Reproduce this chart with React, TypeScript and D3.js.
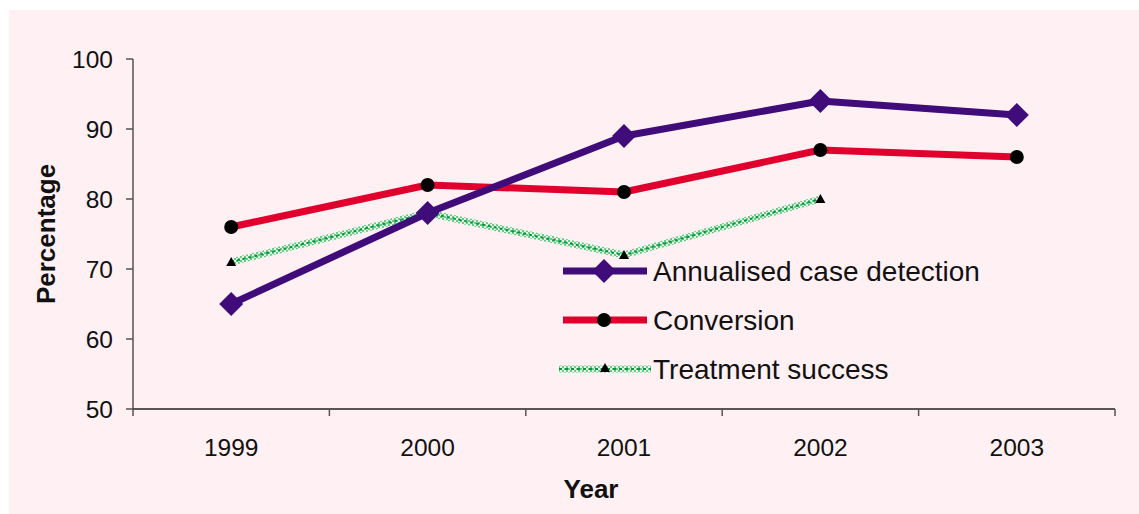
import React from "react";
import * as d3 from "d3";

const years = ["1999", "2000", "2001", "2002", "2003"];
const caseDetection = [65, 78, 89, 94, 92];
const conversion = [76, 82, 81, 87, 86];
const treatmentSuccess = [71, 78, 72, 80];
const yTicks = [50, 60, 70, 80, 90, 100];

const W = 1139;
const H = 514;
const FONT = "Liberation Sans, Arial, Helvetica, sans-serif";

export default function App() {
  const left = 133, right = 1115, top = 59, bottom = 409;
  const x = d3.scaleBand<string>().domain(years).range([left, right]);
  const cx = (y: string) => (x(y) as number) + x.bandwidth() / 2;
  const y = d3.scaleLinear().domain([50, 100]).range([bottom, top]);

  const line = d3
    .line<number>()
    .x((_, i) => cx(years[i]))
    .y((d) => y(d));

  const purple = "#3f0c79";
  const red = "#e1002d";
  const diamond = (px: number, py: number, r = 12) =>
    `M${px},${py - r}L${px + r},${py}L${px},${py + r}L${px - r},${py}Z`;
  const tri = (px: number, py: number, s = 5) =>
    `M${px},${py - s}L${px + s},${py + s * 0.8}L${px - s},${py + s * 0.8}Z`;

  const boundaries = years.map((yr) => x(yr) as number).concat([right]);

  const TreatLine = ({ d }: { d: string }) => (
    <g fill="none" strokeLinejoin="round">
      <path d={d} stroke="#ffffff" strokeWidth={7} />
      <path d={d} stroke="url(#greenPat)" strokeWidth={7} />
      <path d={d} stroke="#009a3e" strokeWidth={2} strokeDasharray="3,3" />
    </g>
  );

  const legendX1 = 563, legendX2 = 647, legendMid = 604, legendText = 653;
  const legendRows = [271, 320, 369];

  return (
    <div style={{ position: "absolute", left: 0, top: 0 }}>
      <svg width={W} height={H} style={{ display: "block" }}>
        <defs>
          <pattern id="greenPat" width={4} height={4} patternUnits="userSpaceOnUse">
            <rect width={4} height={4} fill="#e6f5e8" />
            <rect x={0} y={0} width={2} height={2} fill="#6cc788" />
            <rect x={2} y={2} width={2} height={2} fill="#6cc788" />
          </pattern>
        </defs>
        <rect x={9} y={10} width={W - 9} height={H - 10} fill="#fff0f3" />

        {/* Y axis */}
        <line x1={left} x2={left} y1={top} y2={bottom} stroke="#555" strokeWidth={1.5} />
        {yTicks.map((t) => (
          <g key={t}>
            <line x1={left - 7} x2={left} y1={y(t)} y2={y(t)} stroke="#555" strokeWidth={1.5} />
            <text
              x={left - 20}
              y={y(t)}
              dy="0.36em"
              textAnchor="end"
              fontFamily={FONT}
              fontSize={24.5}
              fill="#111"
            >
              {t}
            </text>
          </g>
        ))}

        {/* X axis */}
        <line x1={left} x2={right} y1={bottom} y2={bottom} stroke="#222" strokeWidth={1.5} />
        {boundaries.map((b, i) => (
          <line key={i} x1={b} x2={b} y1={bottom} y2={bottom + 7} stroke="#555" strokeWidth={1.5} />
        ))}
        {years.map((yr) => (
          <text
            key={yr}
            x={cx(yr)}
            y={456}
            textAnchor="middle"
            fontFamily={FONT}
            fontSize={24.5}
            fill="#111"
          >
            {yr}
          </text>
        ))}

        <text
          x={591}
          y={498}
          textAnchor="middle"
          fontFamily={FONT}
          fontSize={26}
          fontWeight="bold"
          fill="#111"
        >
          Year
        </text>
        <text
          transform={`translate(55,234) rotate(-90)`}
          textAnchor="middle"
          fontFamily={FONT}
          fontSize={26}
          fontWeight="bold"
          fill="#111"
        >
          Percentage
        </text>

        {/* Series */}
        <TreatLine d={line(treatmentSuccess) as string} />
        {treatmentSuccess.map((v, i) => (
          <path key={i} d={tri(cx(years[i]), y(v))} fill="#000" />
        ))}

        <path
          d={line(conversion) as string}
          fill="none"
          stroke={red}
          strokeWidth={7}
          strokeLinejoin="round"
        />
        {conversion.map((v, i) => (
          <circle key={i} cx={cx(years[i])} cy={y(v)} r={7} fill="#000" />
        ))}

        <path
          d={line(caseDetection) as string}
          fill="none"
          stroke={purple}
          strokeWidth={7}
          strokeLinejoin="round"
        />
        {caseDetection.map((v, i) => (
          <path key={i} d={diamond(cx(years[i]), y(v))} fill={purple} />
        ))}

        {/* Legend */}
        <line x1={legendX1} x2={legendX2} y1={legendRows[0]} y2={legendRows[0]} stroke={purple} strokeWidth={7} />
        <path d={diamond(legendMid, legendRows[0])} fill={purple} />
        <text x={legendText} y={legendRows[0]} dy="0.36em" fontFamily={FONT} fontSize={28} fill="#111">
          Annualised case detection
        </text>

        <line x1={legendX1} x2={legendX2} y1={legendRows[1]} y2={legendRows[1]} stroke={red} strokeWidth={7} />
        <circle cx={legendMid} cy={legendRows[1]} r={7} fill="#000" />
        <text x={legendText} y={legendRows[1]} dy="0.36em" fontFamily={FONT} fontSize={28} fill="#111">
          Conversion
        </text>

        <TreatLine d={`M${legendX1 - 4},${legendRows[2]}L${legendX2 + 4},${legendRows[2]}`} />
        <path d={tri(legendMid + 1, legendRows[2] - 1)} fill="#000" />
        <text x={legendText} y={legendRows[2]} dy="0.36em" fontFamily={FONT} fontSize={28} fill="#111">
          Treatment success
        </text>
      </svg>
    </div>
  );
}
